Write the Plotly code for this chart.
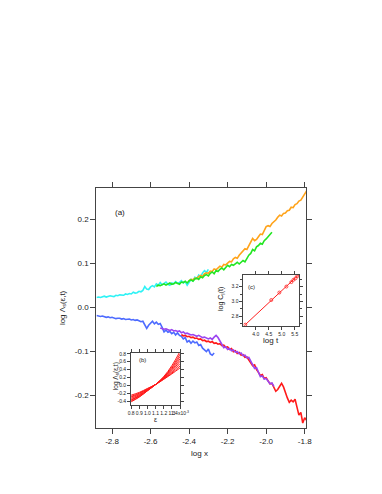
import numpy as np
import plotly.graph_objects as go

# ---------------- main panel (a) data ----------------
cyan_x0, cyan_step = -2.88, 0.01
cyan_y = [0.022, 0.023, 0.022, 0.023, 0.025, 0.023, 0.024, 0.026, 0.025, 0.024,
          0.027, 0.026, 0.028, 0.027, 0.027, 0.030, 0.029, 0.031, 0.030, 0.034,
          0.032, 0.033, 0.036, 0.035, 0.038, 0.047, 0.041, 0.040, 0.046, 0.049,
          0.046, 0.053, 0.050, 0.056, 0.051, 0.054, 0.057, 0.052, 0.050, 0.055,
          0.053, 0.058, 0.054, 0.056, 0.060, 0.055, 0.058, 0.050, 0.057, 0.063,
          0.060, 0.068, 0.065, 0.073, 0.069, 0.078, 0.083, 0.079, 0.086]

green_x0, green_step = -2.57, 0.01
green_y = [0.047, 0.050, 0.049, 0.051, 0.053, 0.050, 0.052, 0.055, 0.052, 0.053,
           0.056, 0.054, 0.052, 0.057, 0.056, 0.059, 0.055, 0.060, 0.062, 0.059,
           0.064, 0.066, 0.063, 0.069, 0.067, 0.072, 0.074, 0.071, 0.077, 0.080,
           0.076, 0.083, 0.081, 0.086, 0.089, 0.085, 0.091, 0.095, 0.092, 0.097,
           0.095, 0.099, 0.102, 0.098, 0.103, 0.106, 0.103, 0.112, 0.118, 0.122,
           0.131, 0.128, 0.137, 0.140, 0.145, 0.143, 0.151, 0.155, 0.160, 0.164,
           0.170]

orange_x0, orange_step = -2.40, 0.01
orange_y = [0.060, 0.063, 0.062, 0.066, 0.065, 0.070, 0.072, 0.070, 0.076, 0.078,
            0.077, 0.082, 0.081, 0.087, 0.085, 0.090, 0.093, 0.091, 0.097, 0.096,
            0.101, 0.104, 0.103, 0.110, 0.113, 0.111, 0.118, 0.123, 0.127, 0.133,
            0.131, 0.139, 0.146, 0.156, 0.151, 0.154, 0.160, 0.166, 0.165, 0.174,
            0.183, 0.185, 0.183, 0.190, 0.193, 0.198, 0.204, 0.209, 0.207, 0.213,
            0.214, 0.219, 0.220, 0.227, 0.226, 0.233, 0.235, 0.241, 0.243, 0.250,
            0.257, 0.264]

blue_x0, blue_step = -2.88, 0.01
blue_y = [-0.019, -0.020, -0.021, -0.020, -0.022, -0.023, -0.022, -0.024, -0.023, -0.024,
          -0.026, -0.025, -0.025, -0.027, -0.026, -0.028, -0.027, -0.027, -0.029, -0.028,
          -0.030, -0.029, -0.031, -0.033, -0.032, -0.040, -0.048, -0.041, -0.036, -0.032,
          -0.038, -0.034, -0.039, -0.037, -0.046, -0.056, -0.052, -0.057, -0.055, -0.060,
          -0.057, -0.063, -0.058, -0.064, -0.066, -0.072, -0.069, -0.079, -0.076, -0.082,
          -0.077, -0.081, -0.079, -0.087, -0.085, -0.093, -0.097, -0.101, -0.095, -0.106,
          -0.109, -0.104]

purple_x0, purple_step = -2.55, 0.01
purple_y = [-0.047, -0.049, -0.050, -0.049, -0.052, -0.053, -0.051, -0.054, -0.053, -0.055,
            -0.054, -0.058, -0.056, -0.060, -0.059, -0.061, -0.063, -0.062, -0.064, -0.066,
            -0.064, -0.067, -0.069, -0.068, -0.070, -0.072, -0.070, -0.073, -0.068, -0.064,
            -0.069, -0.077, -0.085, -0.092, -0.090, -0.096, -0.094, -0.099, -0.097, -0.102,
            -0.101, -0.106, -0.104, -0.110, -0.109, -0.115, -0.114, -0.122, -0.131, -0.139,
            -0.137, -0.150, -0.158, -0.156, -0.163, -0.162, -0.169, -0.174, -0.172, -0.180]

red_x0, red_step = -2.44, 0.01
red_y = [-0.062, -0.065, -0.064, -0.067, -0.066, -0.069, -0.068, -0.071, -0.070, -0.073,
         -0.072, -0.076, -0.075, -0.078, -0.077, -0.080, -0.078, -0.082, -0.081, -0.084,
         -0.083, -0.087, -0.086, -0.091, -0.090, -0.096, -0.094, -0.101, -0.099, -0.105,
         -0.103, -0.109, -0.108, -0.114, -0.113, -0.120, -0.127, -0.133, -0.131, -0.142,
         -0.148, -0.155, -0.153, -0.162, -0.160, -0.167, -0.174, -0.173, -0.183, -0.191,
         -0.187, -0.179, -0.173, -0.181, -0.195, -0.206, -0.216, -0.211, -0.215, -0.209,
         -0.227, -0.245, -0.239, -0.263, -0.251, -0.257]

main_xticks = [-2.8, -2.6, -2.4, -2.2, -2.0, -1.8]
main_yticks = [-0.2, -0.1, 0.0, 0.1, 0.2]

# ---------------- inset (b) data ----------------
eps = [0.8, 0.9, 1.0, 1.1, 1.2, 1.3, 1.4]
eps_ticktext = ["0.8", "0.9", "1.0", "1.1", "1.2", "1.3", "1.4x10<sup>-3</sup>"]
lam_curves = [
    [-0.42, -0.30, -0.14, 0.02, 0.22, 0.50, 0.86],
    [-0.40, -0.29, -0.14, 0.02, 0.21, 0.46, 0.79],
    [-0.38, -0.27, -0.13, 0.02, 0.20, 0.43, 0.73],
    [-0.36, -0.26, -0.12, 0.02, 0.19, 0.40, 0.67],
    [-0.33, -0.24, -0.11, 0.02, 0.18, 0.37, 0.61],
    [-0.30, -0.22, -0.10, 0.02, 0.17, 0.34, 0.55],
    [-0.28, -0.20, -0.09, 0.02, 0.16, 0.31, 0.49],
    [-0.25, -0.18, -0.08, 0.02, 0.15, 0.29, 0.44],
]
b_yticks = [-0.4, -0.2, 0.0, 0.2, 0.4, 0.6, 0.8]

# ---------------- inset (c) data ----------------
logt_pts = [3.60, 4.60, 4.91, 5.18, 5.37, 5.45, 5.53, 5.60]
logC_pts = [2.69, 3.02, 3.12, 3.20, 3.26, 3.29, 3.31, 3.34]
fit_logt = [3.60, 5.63]
fit_logC = [2.69, 3.35]


def xgrid(x0, step, n):
    return [round(x0 + i * step, 4) for i in range(n)]


fig = go.Figure()

series = [
    (cyan_x0, cyan_step, cyan_y, "#2EF2F5"),
    (orange_x0, orange_step, orange_y, "#FFA31A"),
    (green_x0, green_step, green_y, "#22E622"),
    (blue_x0, blue_step, blue_y, "#4D6BFF"),
    (red_x0, red_step, red_y, "#FF1A1A"),
    (purple_x0, purple_step, purple_y, "#9B45F0"),
]
for x0, st, ys, col in series:
    fig.add_trace(go.Scatter(x=xgrid(x0, st, len(ys)), y=ys, mode="lines",
                             line=dict(color=col, width=1.6), showlegend=False,
                             xaxis="x", yaxis="y"))

for ys in lam_curves:
    fig.add_trace(go.Scatter(x=eps, y=ys, mode="lines", line=dict(color="#FF1A1A", width=1, shape="spline"),
                             showlegend=False, xaxis="x2", yaxis="y2"))

fig.add_trace(go.Scatter(x=fit_logt, y=fit_logC, mode="lines", line=dict(color="#FF2020", width=1),
                         showlegend=False, xaxis="x3", yaxis="y3"))
fig.add_trace(go.Scatter(x=logt_pts, y=logC_pts, mode="markers",
                         marker=dict(symbol="circle-open", size=3, color="#FF2020", line=dict(width=0.8)),
                         showlegend=False, xaxis="x3", yaxis="y3"))

W, H = 382, 494
FONT = "Liberation Sans, Arial, sans-serif"
AX = "#444444"
TXT = "#222222"


def px(x):
    return x / W


def py(y):
    return 1 - y / H


common = dict(showgrid=False, zeroline=False, showline=True, linecolor=AX, linewidth=1,
              mirror="ticks", ticks="outside", tickcolor=AX, tickwidth=1)

fig.update_layout(
    width=W, height=H, margin=dict(l=0, r=0, t=0, b=0),
    paper_bgcolor="white", plot_bgcolor="white",
    font=dict(family=FONT, color=TXT),
    xaxis=dict(domain=[px(88), px(305)], range=[-2.882, -1.791], anchor="y",
               tickvals=main_xticks, ticktext=[f"{v:.1f}" for v in main_xticks],
               ticklen=5, tickfont=dict(size=8, color=TXT), tickangle=0, **common),
    yaxis=dict(domain=[py(420), py(179)], range=[-0.275, 0.270], anchor="x",
               tickvals=main_yticks, ticktext=[f"{v:.1f}" for v in main_yticks],
               ticklen=5, tickfont=dict(size=8, color=TXT), **common),
    xaxis2=dict(domain=[px(124), px(174.5)], range=[0.8, 1.4], anchor="y2",
                tickvals=eps, ticktext=eps_ticktext, ticklen=3, tickangle=0,
                tickfont=dict(size=5, color=TXT), **common),
    yaxis2=dict(domain=[py(397), py(344)], range=[-0.51, 0.83], anchor="x2",
                tickvals=b_yticks, ticktext=[f"{v:.1f}" for v in b_yticks], ticklen=3,
                tickfont=dict(size=5, color=TXT), **common),
    xaxis3=dict(domain=[px(240), px(297.5)], range=[3.53, 5.67], anchor="y3",
                tickvals=[4.0, 4.5, 5.0, 5.5], ticktext=["4.0", "4.5", "5.0", "5.5"], ticklen=3,
                tickangle=0, tickfont=dict(size=5, color=TXT), **common),
    yaxis3=dict(domain=[py(317.3), py(266)], range=[2.672, 3.356], anchor="x3",
                tickvals=[2.8, 3.0, 3.2], ticktext=["2.8", "3.0", "3.2"], ticklen=3,
                minor=dict(dtick=0.1, ticklen=2, ticks="outside", tickcolor=AX),
                tickfont=dict(size=5, color=TXT), **common),
)

ann = [
    dict(x=px(113), y=py(203), text="(a)", size=8),
    dict(x=px(53), y=py(299), text="log Λ<sub>s</sub>(ε,t)", textangle=-90, size=8),
    dict(x=px(195), y=py(445), text="log x", size=8),
    dict(x=px(136), y=py(351.5), text="(b)", size=6),
    dict(x=px(108), y=py(368), text="log Λ<sub>s</sub>(ε,t)", textangle=-90, size=6.5),
    dict(x=px(149), y=py(411), text="ε", size=7),
    dict(x=px(248.5), y=py(278.5), text="(c)", size=6),
    dict(x=px(217), y=py(290), text="log C<sub>I</sub>(t)", textangle=-90, size=7),
    dict(x=px(268), y=py(332), text="log t", size=8),
]
for a in ann:
    size = a.pop("size")
    fig.add_annotation(xref="paper", yref="paper", showarrow=False, xanchor="center",
                       yanchor="middle", font=dict(size=size, color=TXT, family=FONT), **a)

fig.write_html("out.html")
